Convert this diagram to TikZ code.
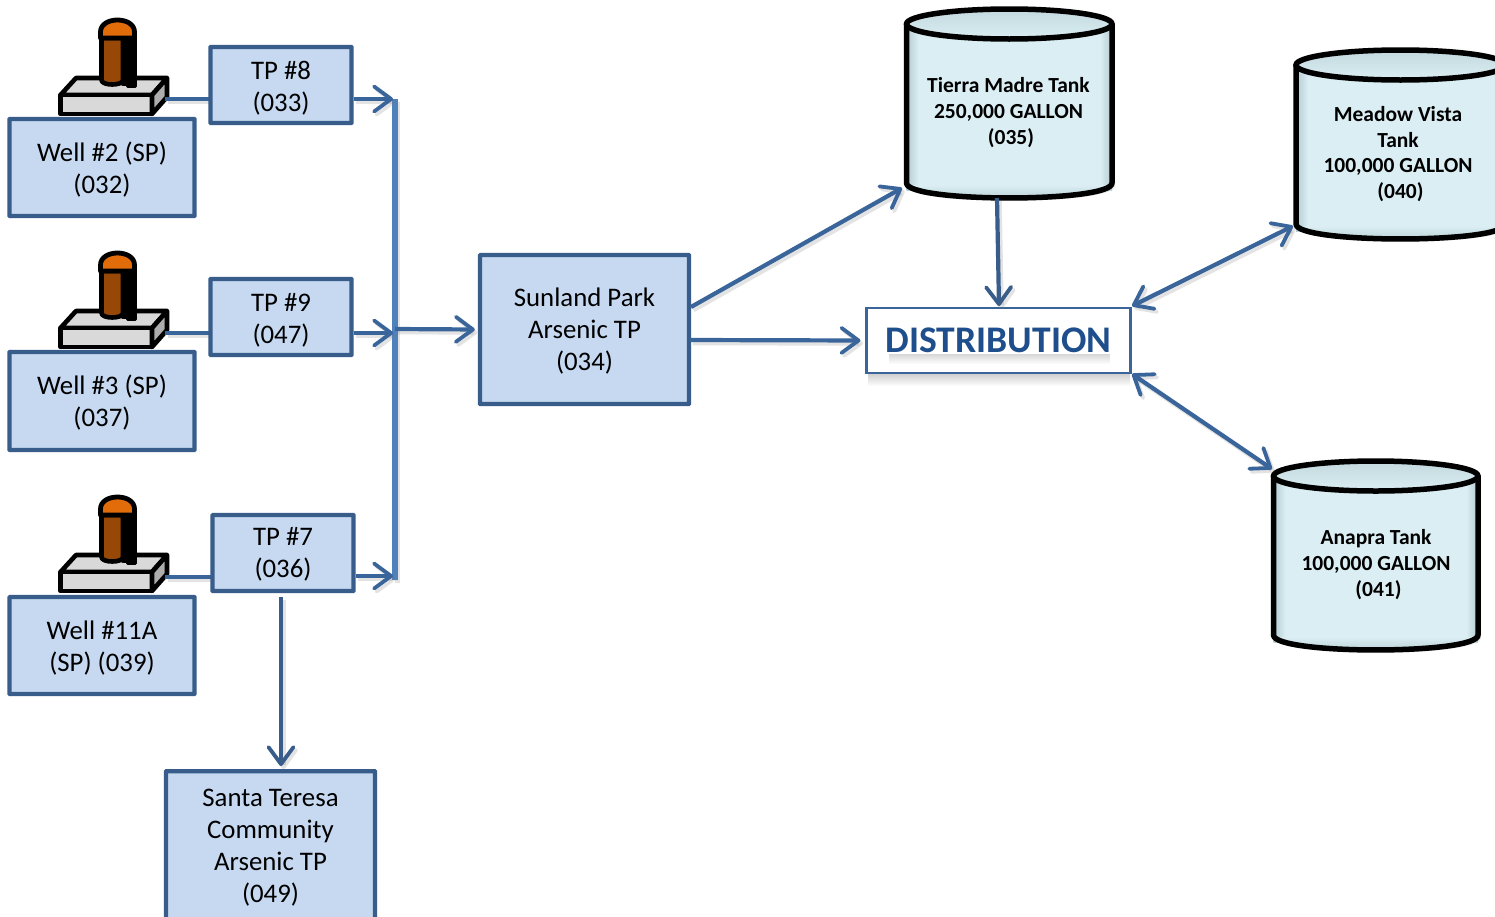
\documentclass[tikz,border=0pt]{standalone}
\usepackage{fontspec}
\setmainfont{Carlito}
\usetikzlibrary{arrows.meta,calc,fadings}
\definecolor{boxfill}{HTML}{C6D9F1}
\definecolor{boxline}{HTML}{385D8A}
\definecolor{arrowblue}{HTML}{3A659B}
\definecolor{busblue}{HTML}{4F81BD}
\definecolor{tankfill}{HTML}{DAEEF3}
\definecolor{tankedge}{HTML}{B4CBD1}
\definecolor{distblue}{HTML}{1F4E8C}
\definecolor{wellbrown}{HTML}{974806}
\definecolor{wellorange}{HTML}{E36C0A}
\newcommand{\pushdown}[1]{\rule{0pt}{\dimexpr 18pt+#1\relax}}
\tikzset{
  x=1pt,y=-1pt,
  flowbox/.style={draw=boxline,line width=4.4pt,fill=boxfill,rounded corners=0.6pt,align=center,font=\fontsize{26.8}{32}\selectfont,inner sep=0pt,text=black},
  tanktext/.style={align=center,font=\fontsize{21.5}{25.8}\selectfont\bfseries,inner sep=0pt,text=black},
  softshadow/.style={preaction={draw=black!55,opacity=0.2,line width=4.5pt,transform canvas={shift={(2.5pt,-3pt)}}}},
  flow/.style={softshadow,draw=arrowblue,line width=4.2pt,-{Straight Barb[length=17pt,width=25pt,line width=3.8pt,round]}},
  flowboth/.style={softshadow,draw=arrowblue,line width=4.2pt,{Straight Barb[length=17pt,width=25pt,line width=3.8pt,round]}-{Straight Barb[length=17pt,width=25pt,line width=3.8pt,round]}},
  plain/.style={softshadow,draw=arrowblue,line width=4.2pt},
  bus/.style={softshadow,draw=busblue,line width=6.5pt},
  blackline/.style={draw=black,line width=4.6pt,line join=round},
}
\newcommand{\wellicon}[2]{%
  \begin{scope}[shift={(#1,#2)}]
    \draw[blackline,fill=black!15] (60.5,95) -- (76,78) -- (167,78) -- (152,95) -- cycle;
    \draw[blackline,fill=black!15] (60.5,95) rectangle (152,114);
    \draw[blackline,fill=black!32] (152,95) -- (167,78) -- (167,97) -- (152,114) -- cycle;
    \draw[blackline,fill=black,line width=3pt] (127,38) rectangle (135,86);
    \draw[blackline,fill=wellbrown] (101.5,38) -- (101.5,80) .. controls (101.5,86) and (123,86) .. (123,80) -- (123,38) -- cycle;
    \draw[blackline,fill=black] (123,38) rectangle (128,84);
    \draw[blackline,fill=wellorange,line width=4.8pt] (100.5,38) -- (100.5,32) .. controls (100.5,16) and (134.5,16) .. (134.5,32) -- (134.5,38) -- cycle;
  \end{scope}}
\newcommand{\tankshape}[6]{%
  \fill[black!40,opacity=0.22] ({#1+3},{#3+3}) -- ({#1+3},{#4+3}) .. controls ({#1+3},{#4+#5*1.5}) and ({#2+3},{#4+#5*1.5}) .. ({#2+3},{#4+3}) -- ({#2+3},{#3+3}) -- cycle;
  \path[fill=tankfill] (#1,#3) -- (#1,#4) .. controls (#1,{#4+#5*1.33}) and (#2,{#4+#5*1.33}) .. (#2,#4) -- (#2,#3) -- cycle;
  \path[left color=tankedge,right color=tankfill] (#1,#3) rectangle ({#1+12},{#4+7});
  \path[left color=tankfill,right color=tankedge] ({#2-12},#3) rectangle (#2,{#4+7});
  \path[top color=tankfill,bottom color=tankedge] ({#1+3},{#4+2}) .. controls ({#1+3},{#4+#5*1.3}) and ({#2-3},{#4+#5*1.3}) .. ({#2-3},{#4+2}) -- cycle;
  \draw[draw=black,line width=5.5pt,line join=round]
    (#1,#3) -- (#1,#4) .. controls (#1,{#4+#5*1.33}) and (#2,{#4+#5*1.33}) .. (#2,#4) -- (#2,#3);
  \draw[draw=black,line width=5.5pt,top color=tankedge!60!tankfill,bottom color=tankfill]
    ({(#1+#2)/2},#3) ellipse [x radius={(#2-#1)/2},y radius=#5];
  \coordinate (#6) at ({(#1+#2)/2},{(#3+#4)/2});
}
\begin{document}
\begin{tikzpicture}
\useasboundingbox (0,0) rectangle (1495,916);
\fill[white] (0,0) rectangle (1495,916);

\coordinate (busTop) at (395,99);
\coordinate (busMid) at (395,329);
\coordinate (busBot) at (395,580);
\coordinate (tp8in) at (393,99);
\coordinate (tp9in) at (393,333);
\coordinate (tp7in) at (393,576);
\coordinate (w2out) at (165,99);
\coordinate (w3out) at (165,333);
\coordinate (w11out) at (165,577);

\wellicon{0}{0}
\wellicon{0}{233}
\wellicon{0}{477}

\draw[plain] (w2out) -- (w2out -| 212,0);
\draw[plain] (w3out) -- (w3out -| 212,0);
\draw[plain] (w11out) -- (w11out -| 214,0);

\node[flowbox,minimum width=185pt,minimum height=97pt] (well2) at (102,167.5) {\pushdown{5pt}Well \#2 (SP)\\(032)};
\node[flowbox,minimum width=185pt,minimum height=98pt] (well3) at (102,401) {\pushdown{4pt}Well \#3 (SP)\\(037)};
\node[flowbox,minimum width=185pt,minimum height=97pt] (well11) at (102,645.5) {\pushdown{5pt}Well \#11A\\(SP) (039)};

\node[flowbox,minimum width=141pt,minimum height=76pt] (tp8) at (281,85) {\pushdown{6pt}TP \#8\\(033)};
\node[flowbox,minimum width=141pt,minimum height=76pt] (tp9) at (281,317) {\pushdown{6pt}TP \#9\\(047)};
\node[flowbox,minimum width=141pt,minimum height=76pt] (tp7) at (283,553) {\pushdown{3pt}TP \#7\\(036)};

\node[flowbox,minimum width=209pt,minimum height=149pt] (arsenic) at (584.5,329.5) {\pushdown{3pt}Sunland Park\\Arsenic TP\\(034)};
\node[flowbox,minimum width=209pt,minimum height=152pt,anchor=north] (santa) at (270.5,769) {Santa Teresa\\Community\\Arsenic TP\\(049)};

\fill[black!60,opacity=0.3,path fading=south] (868,374) rectangle (1130,386);
\node[draw=arrowblue,line width=2.2pt,fill=white,minimum width=264pt,minimum height=65pt,inner sep=0pt,
      font=\fontsize{37.6}{40}\selectfont\bfseries,text=distblue] (dist) at (998.5,340.5) {DISTRIBUTION};
\fill[black!70,opacity=0.22,path fading=south] (889,354) rectangle (1110,364);

\draw[bus] (busTop) -- (busBot);
\draw[flow] (tp8.east |- tp8in) -- (tp8in);
\draw[flow] (tp9.east |- tp9in) -- (tp9in);
\draw[flow] (tp7.east |- tp7in) -- (tp7in);
\draw[flow,shorten >=3pt] (busMid) -- (arsenic.west);

\coordinate (tp7down) at (281,597);
\coordinate (santaIn) at (281,766);
\draw[flow,draw=boxline] (tp7down) -- (santaIn);

\tankshape{906.5}{1112}{24}{183}{15}{tierra}
\tankshape{1296}{1505}{65}{224}{15}{meadow}
\tankshape{1273.5}{1478}{476}{635}{15}{anapra}

\node[tanktext] (tierraT) at (1008.5,112.5) {Tierra Madre Tank\\250,000 GALLON\\\hspace*{5pt}(035)};
\node[tanktext] (meadowT) at (1398,154) {Meadow Vista\\Tank\\100,000 GALLON\\\hspace*{5pt}(040)};
\node[tanktext] (anapraT) at (1376,564.5) {Anapra Tank\\100,000 GALLON\\\hspace*{5pt}(041)};

\coordinate (aOut) at (691,307);
\coordinate (tierraIn) at (902,188);
\coordinate (bOut) at (690,340);
\coordinate (tierraOut) at (997,198);
\coordinate (distTop) at (999,306);
\coordinate (distNE) at (1132,306);
\coordinate (meadowIn) at (1293,226);
\coordinate (distSE) at (1132,374);
\coordinate (anapraIn) at (1272,469);

\draw[flow] (aOut) -- (tierraIn);
\draw[flow,shorten >=5pt] (bOut) -- (dist.west);
\draw[flow,draw=boxline] (tierraOut) -- (distTop);
\draw[flowboth] (distNE) -- (meadowIn);
\draw[flowboth] (distSE) -- (anapraIn);
\end{tikzpicture}
\end{document}
